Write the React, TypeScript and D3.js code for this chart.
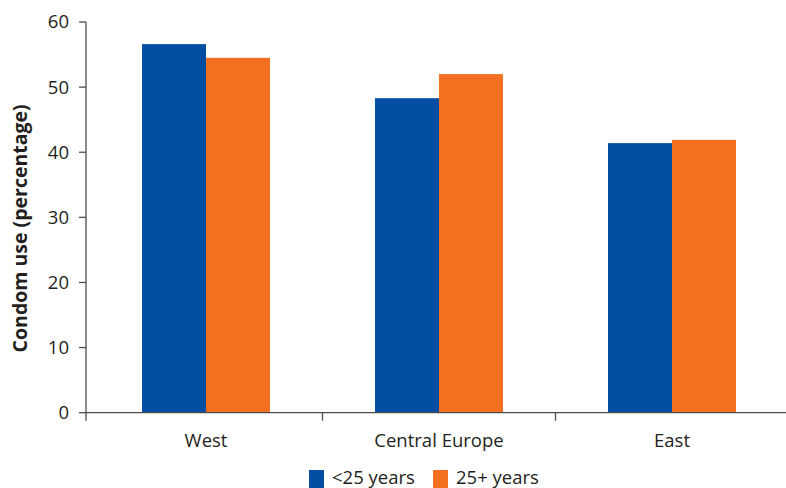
import React from "react";
import * as d3 from "d3";

const categories = ["West", "Central Europe", "East"];
const seriesNames = ["<25 years", "25+ years"];
const under25 = [56.6, 48.3, 41.4];
const over25 = [54.5, 52.0, 41.9];
const yTicks = [0, 10, 20, 30, 40, 50, 60];

const colors = ["#034ea2", "#f37021"];
const textColor = "#231f20";
const axisColor = "#4d4d4d";
const font = "'Open Sans', 'Noto Sans', sans-serif";

export default function App() {
  const width = 786;
  const height = 488;
  const x0 = 86;
  const y = d3.scaleLinear().domain([0, 60]).range([412.7, 22]);
  const x = d3.scaleBand<string>().domain(categories).range([89.5, 788.5]).paddingInner(0.4506).paddingOuter(0.2253);
  const xInner = d3.scaleBand<string>().domain(seriesNames).range([0, x.bandwidth()]);
  const series = [under25, over25];
  const fs = 18.5;

  return (
    <svg width={width} height={height} style={{ position: "absolute", left: 0, top: 0 }} fontFamily={font}>
      {/* bars */}
      {categories.map((c, i) =>
        seriesNames.map((s, j) => (
          <rect
            key={c + s}
            x={(x(c) ?? 0) + (xInner(s) ?? 0)}
            y={y(series[j][i])}
            width={xInner.bandwidth()}
            height={y(0) - y(series[j][i])}
            fill={colors[j]}
          />
        ))
      )}
      {/* y axis */}
      <line x1={x0} x2={x0} y1={y(60)} y2={y(0) + 8} stroke={axisColor} strokeWidth={1.3} />
      {yTicks.map((t) => (
        <g key={t}>
          <line x1={x0 - 7} x2={x0} y1={y(t)} y2={y(t)} stroke={axisColor} strokeWidth={1.3} />
          <text x={x0 - 17} y={y(t)} dy="0.35em" textAnchor="end" fontSize={fs} fill={textColor}>
            {t}
          </text>
        </g>
      ))}
      {/* x axis */}
      <line x1={x0} x2={width} y1={y(0)} y2={y(0)} stroke={axisColor} strokeWidth={1.3} />
      {categories.slice(0, -1).map((c) => {
        const right = (x(c) ?? 0) + x.bandwidth() + (x.step() - x.bandwidth()) / 2;
        return <line key={c + "t"} x1={right} x2={right} y1={y(0)} y2={y(0) + 8} stroke={axisColor} strokeWidth={1.3} />;
      })}
      {categories.map((c) => (
        <text key={c} x={(x(c) ?? 0) + x.bandwidth() / 2} y={447} textAnchor="middle" fontSize={fs} fill={textColor}>
          {c}
        </text>
      ))}
      {/* y label */}
      <text
        transform={`translate(27,${(y(0) + y(60)) / 2 + 11}) rotate(-90)`}
        textAnchor="middle"
        fontSize={19.5}
        fontWeight="bold"
        fill={textColor}
      >
        Condom use (percentage)
      </text>
      {/* legend */}
      {seriesNames.map((s, j) => {
        const lx = [309, 433][j];
        return (
          <g key={s}>
            <rect x={lx} y={470} width={15} height={18} fill={colors[j]} />
            <text x={lx + 23} y={484} fontSize={fs} fill={textColor}>
              {s}
            </text>
          </g>
        );
      })}
    </svg>
  );
}
